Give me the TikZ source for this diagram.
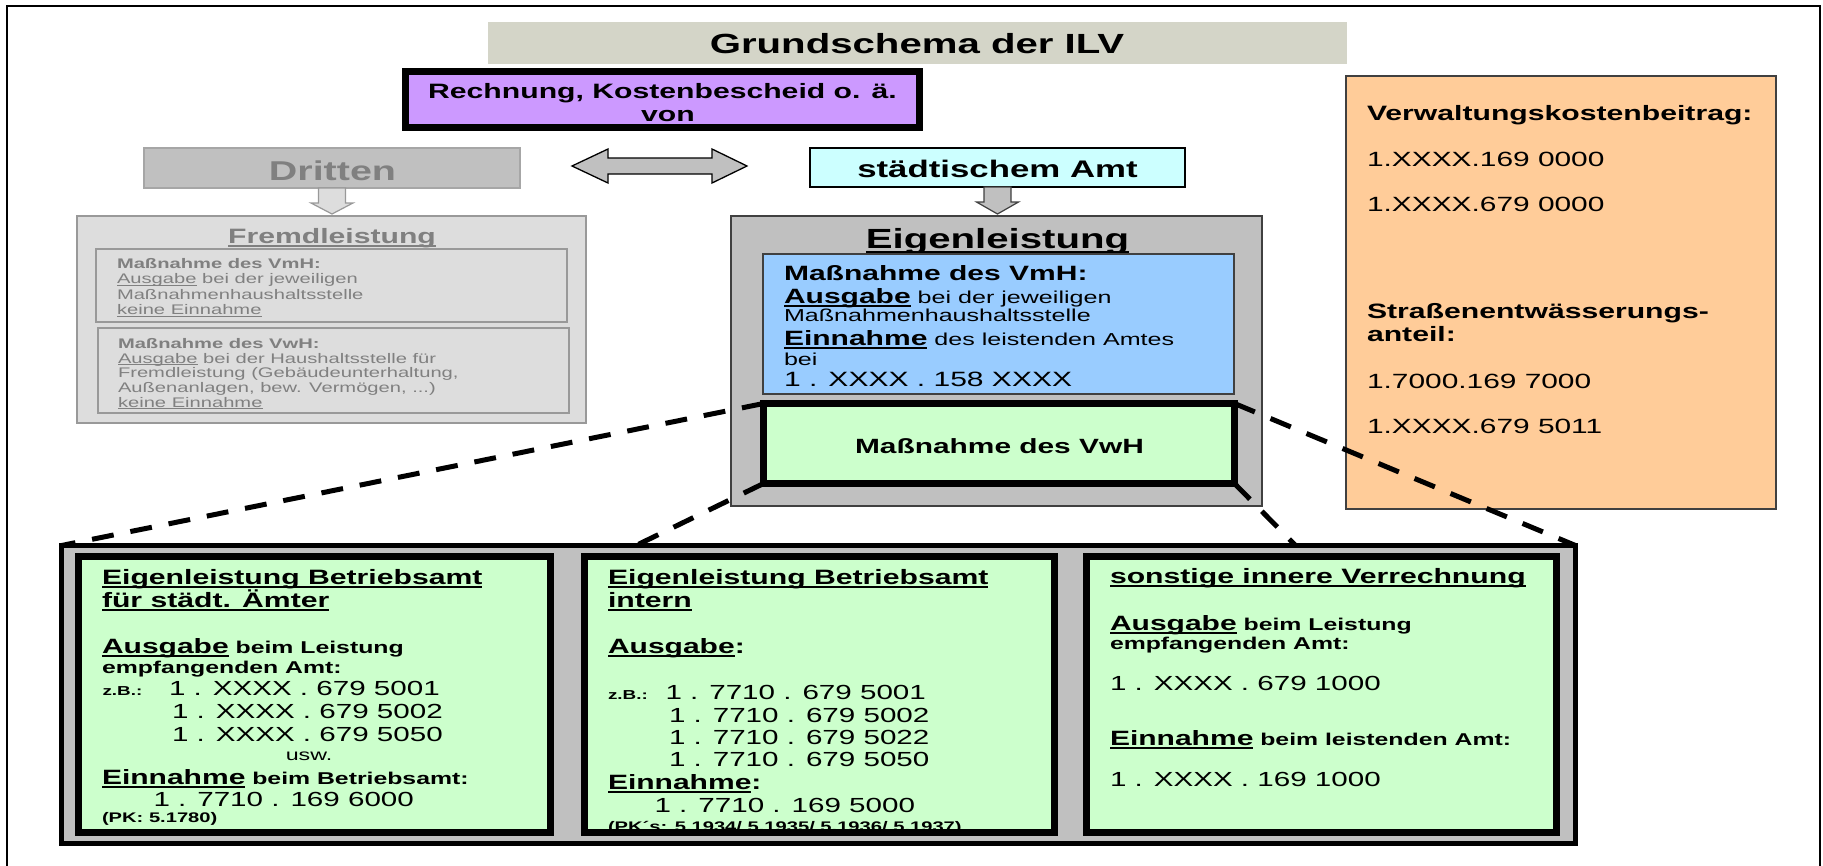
\documentclass[tikz,border=0pt]{standalone}
\usepackage{fontspec}
\setmainfont{Liberation Sans}[FakeStretch=1.45]
\usetikzlibrary{calc}

\definecolor{titlec}{RGB}{212,213,200}
\definecolor{purplec}{RGB}{204,153,255}
\definecolor{grayC0}{RGB}{192,192,192}
\definecolor{grayDD}{RGB}{221,221,221}
\definecolor{grayA6}{RGB}{166,166,166}
\definecolor{gray99}{RGB}{153,153,153}
\definecolor{gray80}{RGB}{128,128,128}
\definecolor{gray40}{RGB}{64,64,64}
\definecolor{cyanc}{RGB}{204,255,255}
\definecolor{bluec}{RGB}{153,204,255}
\definecolor{greenc}{RGB}{204,255,204}
\definecolor{orangec}{RGB}{255,204,153}

% font size helper and underline with fixed depth
\newcommand\fs[1]{\fontsize{#1}{#1}\selectfont}
\newsavebox\ulbox
\newcommand\ulx[1]{{\sbox\ulbox{#1}\rlap{\rule[-0.17em]{\wd\ulbox}{0.075em}}\usebox\ulbox}}
\newcommand\hd[1]{{\bfseries\fs{20.8}\ulx{#1}}}
\newcommand\kw[1]{{\bfseries\fs{20.7}\ulx{#1}}}
\newcommand\smb{\bfseries\fs{17.1}}
\newcommand\num{\fs{20.4}}

\begin{document}
\begin{tikzpicture}[x=1pt,y=-1pt,
  box/.style={rectangle,inner sep=0pt,outer sep=0pt},
  tx/.style={anchor=base west,inner sep=0pt,outer sep=0pt},
  tc/.style={anchor=base,inner sep=0pt,outer sep=0pt},
  greenbox/.style={box,fill=greenc,draw=black,line width=7pt},
  dashline/.style={line width=5pt,dash pattern=on 22pt off 17pt},
  fremdtxt/.style={tx,text=gray80,font=\fs{13.9}}]
\useasboundingbox (0,0) rectangle (1823,865);

% outer frame (open at the bottom)
\draw[line width=1.5pt] (7,875) -- (7,6) -- (1820,6) -- (1820,875);

% title bar
\node[box,fill=titlec,minimum width=859,minimum height=42] (title) at (917.5,43) {};
\node[tc,font=\bfseries\fs{27.7}] (titletxt) at (917,53) {Grundschema der ILV};

% invoice box
\node[box,fill=purplec,draw=black,line width=7pt,minimum width=514,minimum height=56] (rechnung) at (662.5,99.5) {};
\node[tc,font=\bfseries\fs{20.8}] (rech1) at (662.5,98) {Rechnung, Kostenbescheid o. ä.};
\node[tc,font=\bfseries\fs{20.8}] (rech2) at (668,121) {von};

% third parties / municipal office
\node[box,fill=grayC0,draw=grayA6,line width=1.5pt,minimum width=376,minimum height=40] (dritten) at (332,168) {};
\node[tc,text=gray80,font=\bfseries\fs{27.2}] (drittentxt) at (332.5,180) {Dritten};
\node[box,fill=cyanc,draw=black,line width=1.5pt,minimum width=375,minimum height=39] (amt) at (997.5,167.5) {};
\node[tc,font=\bfseries\fs{24}] (amttxt) at (997.5,177) {städtischem Amt};

% external service
\node[box,fill=grayDD,draw=gray99,line width=2pt,minimum width=509,minimum height=207] (fremd) at (331.5,319.5) {};
\node[tc,text=gray80,font=\bfseries\fs{20.8}] (fremdtitle) at (332,243) {\ulx{Fremdleistung}};
\node[box,fill=grayDD,draw=gray99,line width=2pt,minimum width=471,minimum height=73] (fremd1) at (331.5,285.5) {};
\node[box,fill=grayDD,draw=gray99,line width=2pt,minimum width=471,minimum height=85] (fremd2) at (333.5,370.5) {};
\node[fremdtxt,font=\bfseries\fs{13.9}] (f1) at (117,268) {Maßnahme des VmH:};
\node[fremdtxt] (f2) at (117,283.5) {\ulx{Ausgabe} bei der jeweiligen};
\node[fremdtxt] (f3) at (117,299) {Maßnahmenhaushaltsstelle};
\node[fremdtxt] (f4) at (117,314.5) {\ulx{keine Einnahme}};
\node[fremdtxt,font=\bfseries\fs{13.9}] (g1) at (118,348) {Maßnahme des VwH:};
\node[fremdtxt] (g2) at (118,363) {\ulx{Ausgabe} bei der Haushaltsstelle für};
\node[fremdtxt] (g3) at (118,377.5) {Fremdleistung (Gebäudeunterhaltung,};
\node[fremdtxt] (g4) at (118,392) {Außenanlagen, bew. Vermögen, ...)};
\node[fremdtxt] (g5) at (118,407) {\ulx{keine Einnahme}};

% own service
\node[box,fill=grayC0,draw=gray40,line width=1.5pt,minimum width=531,minimum height=290] (eigen) at (996.5,361) {};
\node[tc,font=\bfseries\fs{27.7}] (eigentitle) at (997.5,248) {\ulx{Eigenleistung}};
\node[box,fill=bluec,draw=gray40,line width=1.5pt,minimum width=471,minimum height=140] (vmh) at (998.5,324) {};
\node[tx,font=\bfseries\fs{20.7}] (u1) at (784,280) {Maßnahme des VmH:};
\node[tx] (u2) at (784,303) {\kw{Ausgabe}{\fs{17.3} bei der jeweiligen}};
\node[tx,font=\fs{17.3}] (u3) at (784,321.7) {Maßnahmenhaushaltsstelle};
\node[tx] (u4) at (784,345) {\kw{Einnahme}{\fs{17.3} des leistenden Amtes}};
\node[tx,font=\fs{17.3}] (u5) at (784,365) {bei};
\node[tx,font=\fs{20.7}] (u6) at (784,386.7) {1 . XXXX . 158 XXXX};
\node[greenbox,minimum width=471,minimum height=80] (vwh) at (999,443.5) {};
\node[tc,font=\bfseries\fs{20.6}] (vwhtxt) at (999.5,453) {Maßnahme des VwH};

% block arrows
\draw[fill=grayDD,draw=gray99,line width=1.2pt]
  let \p1=(dritten.south), \p2=(fremd.north) in
  (\x1-13.5pt,\y1) -- (\x1-13.5pt,\y1-15pt) -- (\x1-21pt,\y1-15pt) -- (\x1,\y2+2pt)
  -- (\x1+21pt,\y1-15pt) -- (\x1+13.5pt,\y1-15pt) -- (\x1+13.5pt,\y1) -- cycle;
\draw[fill=grayC0,draw=gray40,line width=1.2pt]
  let \p1=(amt.south), \p2=(eigen.north) in
  (\x1-13.5pt,\y1) -- (\x1-13.5pt,\y1-15pt) -- (\x1-21pt,\y1-15pt) -- (\x1,\y2+2pt)
  -- (\x1+21pt,\y1-15pt) -- (\x1+13.5pt,\y1-15pt) -- (\x1+13.5pt,\y1) -- cycle;
\coordinate (dl) at ($(dritten.east)+(52,-2)$);
\coordinate (dr) at ($(amt.west)+(-63,-1.5)$);
\draw[fill=grayC0,draw=black,line width=1.3pt]
  let \p1=(dl), \p2=(dr) in
  (\p1) -- (\x1+36pt,\y1+17pt) -- (\x1+36pt,\y1+8pt) -- (\x2-35pt,\y1+8pt)
  -- (\x2-35pt,\y1+17pt) -- (\p2) -- (\x2-35pt,\y1-17pt) -- (\x2-35pt,\y1-8pt)
  -- (\x1+36pt,\y1-8pt) -- (\x1+36pt,\y1-17pt) -- cycle;

% accounts box
\node[box,fill=orangec,draw=gray40,line width=1.5pt,minimum width=430,minimum height=433] (konten) at (1561,292.5) {};
\node[tx,font=\bfseries\fs{20.8}] (o1) at (1367,120.7) {Verwaltungskostenbeitrag:};
\node[tx,font=\fs{20.6}] (o2) at (1367,166.7) {1.XXXX.169 0000};
\node[tx,font=\fs{20.6}] (o3) at (1367,211.7) {1.XXXX.679 0000};
\node[tx,font=\bfseries\fs{20.8}] (o4) at (1367,318) {Straßenentwässerungs-};
\node[tx,font=\bfseries\fs{20.8}] (o5) at (1367,341.7) {anteil:};
\node[tx,font=\fs{20.6}] (o6) at (1367,388) {1.7000.169 7000};
\node[tx,font=\fs{20.6}] (o7) at (1367,433) {1.XXXX.679 5011};

% detail panel
\node[box,fill=grayC0,draw=black,line width=5pt,minimum width=1514,minimum height=298] (big) at (818.5,694.5) {};
\node[greenbox,minimum width=472,minimum height=276] (ga) at (314.5,694.5) {};
\node[greenbox,minimum width=470,minimum height=276] (gb) at (819.5,694.5) {};
\node[greenbox,minimum width=470,minimum height=276] (gc) at (1321.5,694.5) {};

% panel A
\node[tx] (a1) at (102,584) {\hd{Eigenleistung Betriebsamt}};
\node[tx] (a2) at (102,607) {\hd{für städt. Ämter}};
\node[tx] (a3) at (102,653) {\kw{Ausgabe}{\smb\ beim Leistung}};
\node[tx,font=\smb] (a4) at (102,673) {empfangenden Amt:};
\node[tx,font=\bfseries\fs{13}] (a5) at (102.5,695) {z.B.:};
\node[tx,font=\num] (a6) at (169,695) {1 . XXXX . 679 5001};
\node[tx,font=\num] (a7) at (172,718) {1 . XXXX . 679 5002};
\node[tx,font=\num] (a8) at (172,741) {1 . XXXX . 679 5050};
\node[tc,font=\fs{16}] (a9) at (309,760.5) {usw.};
\node[tx] (a10) at (102,784) {\kw{Einnahme}{\smb\ beim Betriebsamt:}};
\node[tx,font=\num] (a11) at (153.5,806.7) {1 . 7710 . 169 6000};
\node[tx,font=\bfseries\fs{13.9}] (a12) at (102,822) {(PK: 5.1780)};

% panel B
\node[tx] (b1) at (608,584) {\hd{Eigenleistung Betriebsamt}};
\node[tx] (b2) at (608,607) {\hd{intern}};
\node[tx] (b3) at (608,653) {\kw{Ausgabe}{\bfseries\fs{20.7}:}};
\node[tx,font=\bfseries\fs{13}] (b4) at (608,699) {z.B.:};
\node[tx,font=\num] (b5) at (665.5,699) {1 . 7710 . 679 5001};
\node[tx,font=\num] (b6) at (669,722) {1 . 7710 . 679 5002};
\node[tx,font=\num] (b7) at (669,744) {1 . 7710 . 679 5022};
\node[tx,font=\num] (b8) at (669,766.7) {1 . 7710 . 679 5050};
\node[tx] (b9) at (608,789) {\kw{Einnahme}{\bfseries\fs{20.7}:}};
\node[tx,font=\num] (b10) at (654.6,812.7) {1 . 7710 . 169 5000};
\begin{scope}
  \clip (588,560) rectangle (1051,828.5);
  \node[tx,font=\bfseries\fs{13.9}] (b11) at (608,831) {(PK´s: 5.1934/ 5.1935/ 5.1936/ 5.1937)};
\end{scope}

% panel C
\node[tx] (c1) at (1110,583) {\hd{sonstige innere Verrechnung}};
\node[tx] (c2) at (1110,630) {\kw{Ausgabe}{\smb\ beim Leistung}};
\node[tx,font=\smb] (c3) at (1110,649) {empfangenden Amt:};
\node[tx,font=\num] (c4) at (1110,690) {1 . XXXX . 679 1000};
\node[tx] (c5) at (1110,745) {\kw{Einnahme}{\smb\ beim leistenden Amt:}};
\node[tx,font=\num] (c6) at (1110,786.7) {1 . XXXX . 169 1000};

% zoom lines from the VwH box to the detail panel
\coordinate (bl) at ($(big.north west)+(574.5,0)$);
\coordinate (br) at ($(big.north east)+(-280,0)$);
\draw[dashline] (vwh.north west) -- (big.north west);
\draw[dashline] (vwh.south west) -- (bl);
\draw[dashline] (vwh.north east) -- (big.north east);
\draw[dashline] (vwh.south east) -- (br);
\end{tikzpicture}
\end{document}
